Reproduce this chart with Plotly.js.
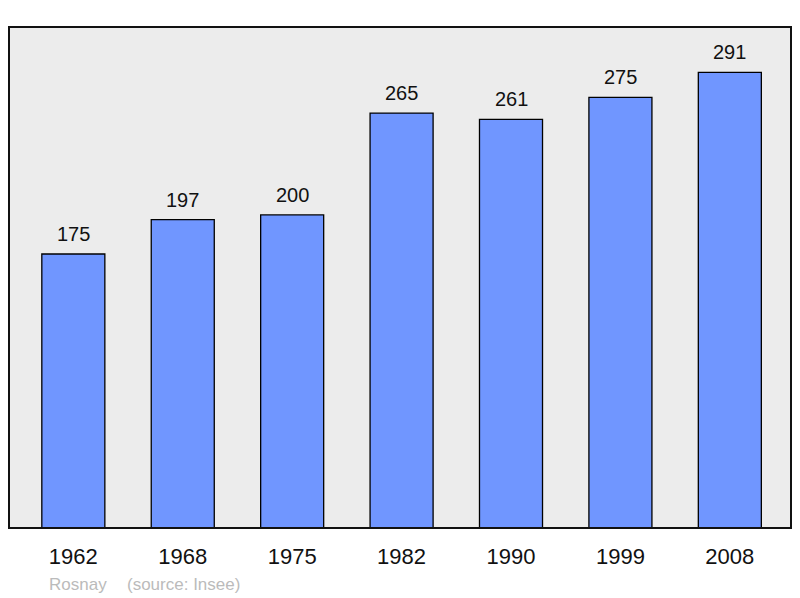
<!DOCTYPE html>
<html>
<head>
<meta charset="utf-8">
<script src="https://cdn.plot.ly/plotly-3.0.1.min.js"></script>
<style>html,body{margin:0;padding:0;background:#fff;}#chart{width:800px;height:598px;}</style>
</head>
<body>
<div id="chart"></div>
<script>
const years = ["1962", "1968", "1975", "1982", "1990", "1999", "2008"];
const population = [175, 197, 200, 265, 261, 275, 291];
const placeName = "Rosnay";
const sourceText = "(source: Insee)";

const trace = {
  type: "bar",
  x: years.map((_, i) => i),
  y: population,
  width: 0.576,
  marker: { color: "#7096ff", line: { color: "#000", width: 1.3 } },
  hoverinfo: "skip"
};

const annotations = population.map((v, i) => ({
  x: i, y: v, xref: "x", yref: "y",
  text: String(v), showarrow: false,
  yanchor: "bottom", yshift: 7,
  font: { family: "Liberation Sans, Arial, sans-serif", size: 20, color: "#111" }
}));
annotations.push({
  xref: "paper", yref: "paper", x: (47 - 9) / 782, y: -(584 - 528) / 501,
  xanchor: "left", yanchor: "middle", text: placeName, showarrow: false,
  font: { family: "Liberation Sans, Arial, sans-serif", size: 17, color: "#bbbbbb" }
});
annotations.push({
  xref: "paper", yref: "paper", x: (125 - 9) / 782, y: -(584 - 528) / 501,
  xanchor: "left", yanchor: "middle", text: sourceText, showarrow: false,
  font: { family: "Liberation Sans, Arial, sans-serif", size: 17, color: "#bbbbbb" }
});

const layout = {
  width: 800, height: 598,
  margin: { l: 9, r: 9, t: 27, b: 70 },
  paper_bgcolor: "#ffffff",
  plot_bgcolor: "#ececec",
  showlegend: false,
  xaxis: {
    range: [-0.588, 6.559],
    tickmode: "array", tickvals: years.map((_, i) => i), ticktext: years,
    showgrid: false, zeroline: false, showline: false,
    ticks: "outside", ticklen: 9, tickcolor: "rgba(0,0,0,0)",
    tickfont: { family: "Liberation Sans, Arial, sans-serif", size: 22, color: "#111" },
    fixedrange: true
  },
  yaxis: {
    range: [0, 320], showgrid: false, zeroline: false, showline: false,
    showticklabels: false, ticks: "", fixedrange: true
  },
  shapes: [{
    type: "rect", xref: "paper", yref: "paper", x0: 0, x1: 1, y0: 0, y1: 1,
    line: { color: "#111", width: 2 }, fillcolor: "rgba(0,0,0,0)"
  }],
  annotations: annotations
};

Plotly.newPlot("chart", [trace], layout, { displayModeBar: false, staticPlot: true });
</script>
</body>
</html>
